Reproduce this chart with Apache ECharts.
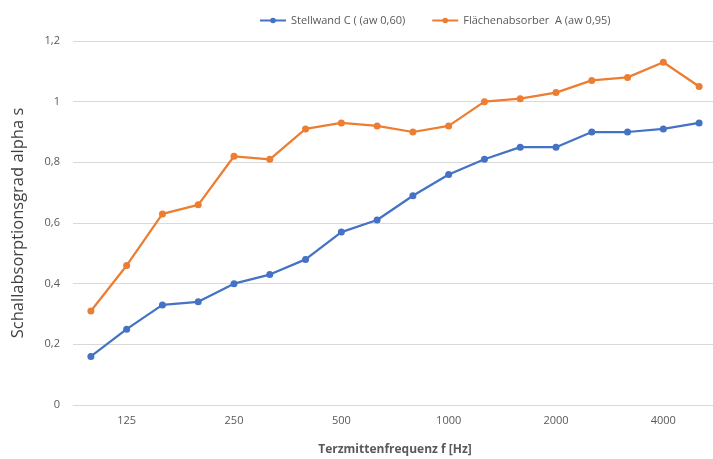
<!DOCTYPE html>
<html>
<head>
<meta charset="utf-8">
<script src="https://cdn.jsdelivr.net/npm/echarts@6/dist/echarts.min.js"></script>
<style>
  html, body { margin: 0; padding: 0; background: #fff; }
  #chart { width: 713px; height: 459px; }
</style>
</head>
<body>
<div id="chart"></div>
<script>
// Terzmittenfrequenzen
var frequencies = ['100', '125', '160', '200', '250', '315', '400', '500', '630', '800',
  '1000', '1250', '1600', '2000', '2500', '3150', '4000', '5000'];

var stellwand = [0.16, 0.25, 0.33, 0.34, 0.40, 0.43, 0.48, 0.57, 0.61, 0.69,
  0.76, 0.81, 0.85, 0.85, 0.90, 0.90, 0.91, 0.93];

var flaechenabsorber = [0.31, 0.46, 0.63, 0.66, 0.82, 0.81, 0.91, 0.93, 0.92, 0.90,
  0.92, 1.00, 1.01, 1.03, 1.07, 1.08, 1.13, 1.05];

var chart = echarts.init(document.getElementById('chart'));

var font = '"Open Sans", sans-serif';

chart.setOption({
  animation: false,
  textStyle: { fontFamily: font },
  legend: {
    top: 10,
    left: 254,
    itemGap: 26,
    itemWidth: 26,
    itemHeight: 7,
    textStyle: { color: '#595959', fontSize: 11, fontFamily: font },
    data: ['Stellwand C ( (aw 0,60)', 'Flächenabsorber  A (aw 0,95)']
  },
  grid: { left: 73, top: 41, bottom: 54, right: -4, containLabel: false, outerBoundsMode: 'none' },
  xAxis: {
    type: 'category',
    data: frequencies,
    boundaryGap: true,
    name: 'Terzmittenfrequenz f [Hz]',
    nameLocation: 'middle',
    nameGap: 39,
    nameTextStyle: { color: '#595959', fontSize: 12, fontWeight: 'bold', fontFamily: font },
    axisLine: { lineStyle: { color: '#d9d9d9' } },
    axisTick: { show: false },
    axisLabel: {
      color: '#595959', fontSize: 11, margin: 10,
      interval: function (idx) { return idx % 3 === 1; }
    }
  },
  yAxis: {
    type: 'value',
    min: 0,
    max: 1.2,
    interval: 0.2,
    name: 'Schallabsorptionsgrad alpha s',
    nameLocation: 'middle',
    nameGap: 46,
    nameTextStyle: { color: '#404040', fontSize: 16.5, fontFamily: font },
    axisLine: { show: false },
    axisTick: { show: false },
    splitLine: { lineStyle: { color: '#d9d9d9' } },
    axisLabel: {
      color: '#595959', fontSize: 11, margin: 13,
      formatter: function (v) { return String(Math.round(v * 10) / 10).replace('.', ','); }
    }
  },
  series: [
    {
      name: 'Stellwand C ( (aw 0,60)',
      type: 'line',
      data: stellwand,
      symbol: 'circle',
      symbolSize: 7,
      color: '#4472c4',
      lineStyle: { width: 2.25 }
    },
    {
      name: 'Flächenabsorber  A (aw 0,95)',
      type: 'line',
      data: flaechenabsorber,
      symbol: 'circle',
      symbolSize: 7,
      color: '#ed7d31',
      lineStyle: { width: 2.25 }
    }
  ]
});
</script>
</body>
</html>
